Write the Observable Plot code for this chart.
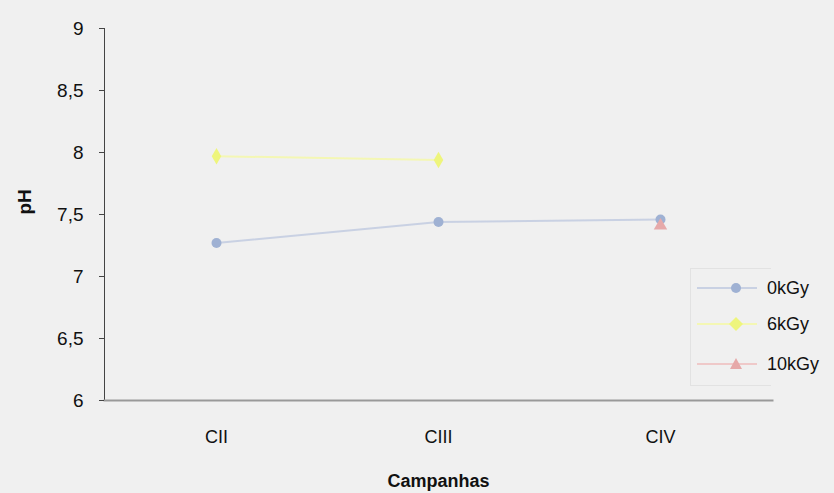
<!DOCTYPE html>
<html>
<head>
<meta charset="utf-8">
<script src="https://cdn.jsdelivr.net/npm/d3@7"></script>
<script src="https://cdn.jsdelivr.net/npm/@observablehq/plot@0.6"></script>
<style>
  html, body { margin: 0; padding: 0; background: #f0f0f0; }
  #wrap { position: relative; width: 834px; height: 493px; font-family: "Liberation Sans", Arial, sans-serif; }
  #legend { position: absolute; left: 690px; top: 268px; width: 80px; height: 116px; border: 1px solid #e2e2e2; border-right: none; }
  .item { position: absolute; left: 0; height: 20px; }
  .item svg { position: absolute; left: 4px; top: 0; }
  .item span { position: absolute; left: 76px; top: 0; font-size: 18px; color: #111; white-space: nowrap; line-height: 20px; }
</style>
</head>
<body>
<div id="wrap"><div id="chart"></div><div id="legend"></div></div>
<script>
const campanhas = ["CII", "CIII", "CIV"];
const series = ["0kGy", "6kGy", "10kGy"];
const ph0kGy = [7.27, 7.44, 7.46];
const ph6kGy = [7.97, 7.94, null];
const ph10kGy = [null, null, 7.41];
const yTicks = [6, 6.5, 7, 7.5, 8, 8.5, 9];
const lineColors = ["#c9d1e3", "#f4f7b4", "#efc9c9"];
const dotColors = ["#9fb1d3", "#eef57c", "#e6a9a9"];
const symbols = ["circle", "diamond", "triangle"];

const seriesValues = [ph0kGy, ph6kGy, ph10kGy];
const rows = [];
series.forEach((s, i) => campanhas.forEach((c, j) => {
  if (seriesValues[i][j] != null) rows.push({serie: s, campanha: c, ph: seriesValues[i][j]});
}));

const fmt = d => String(d).replace(".", ",");

const chart = Plot.plot({
  width: 834,
  height: 493,
  marginLeft: 104,
  marginRight: 62,
  marginTop: 28,
  marginBottom: 93,
  style: {background: "#f0f0f0", fontFamily: "Liberation Sans, Arial, sans-serif"},
  x: {domain: campanhas, type: "point", padding: 0.5, label: null},
  y: {domain: [6, 9], label: null},
  color: {domain: series, range: lineColors},
  symbol: {domain: series, range: symbols},
  marks: [
    Plot.frame({anchor: "left", stroke: "#444", strokeWidth: 1}),
    Plot.frame({anchor: "bottom", stroke: "#999", strokeWidth: 2}),
    Plot.axisY({ticks: yTicks, tickFormat: fmt, tickSize: 5, tickPadding: 16, fontSize: 19, fill: "#111", stroke: "#444"}),
    Plot.axisX({tickSize: 0, tickPadding: 30, fontSize: 18, fill: "#111"}),
    Plot.line(rows, {x: "campanha", y: "ph", z: "serie", stroke: "serie", strokeWidth: 2}),
    Plot.dot(rows, {x: "campanha", y: "ph", symbol: "serie", r: 5,
      fill: d => dotColors[series.indexOf(d.serie)], stroke: "none"}),
    Plot.text(["Campanhas"], {frameAnchor: "bottom", dy: 86, fontSize: 18, fontWeight: "bold", fill: "#111"}),
    Plot.text(["pH"], {frameAnchor: "left", dx: -80, rotate: -90, fontSize: 19, fontWeight: "bold", fill: "#111"})
  ]
});
document.getElementById("chart").appendChild(chart);

const legend = document.getElementById("legend");
const tops = [9, 45, 85];
const symPaths = {
  circle: '<circle cx="41" cy="10" r="5"/>',
  diamond: '<path d="M41,3 L48,10 L41,17 L34,10 Z"/>',
  triangle: '<path d="M41,4 L47,15 L35,15 Z"/>'
};
series.forEach((s, i) => {
  const div = document.createElement("div");
  div.className = "item";
  div.style.top = tops[i] + "px";
  div.innerHTML = `<svg width="80" height="20"><line x1="2" x2="62" y1="10" y2="10" stroke="${lineColors[i]}" stroke-width="2"/><g fill="${dotColors[i]}">${symPaths[symbols[i]]}</g></svg><span>${s}</span>`;
  legend.appendChild(div);
});
</script>
</body>
</html>
